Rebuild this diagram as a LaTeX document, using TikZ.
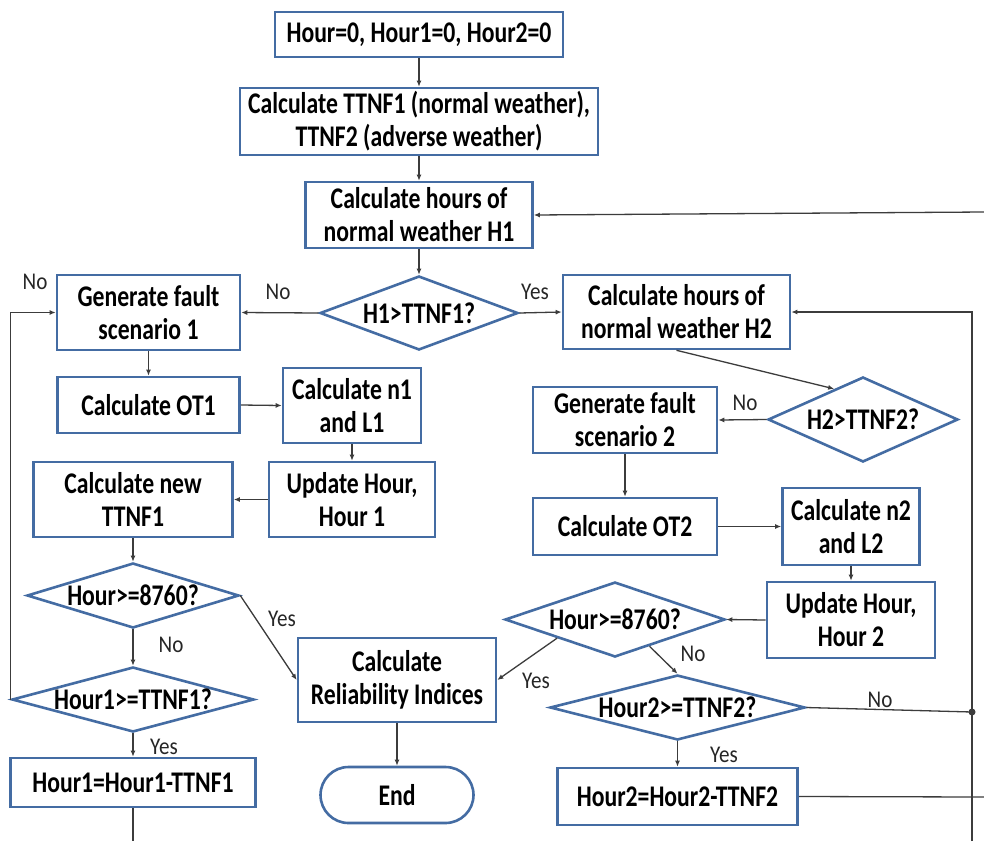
\documentclass[tikz,border=0pt]{standalone}
\usepackage{fontspec}
\setmainfont{Carlito}
\newfontfamily\boxfamily{Carlito}[FakeStretch=0.79]
\newfontfamily\tagfamily{Carlito}[FakeStretch=0.88]
\usetikzlibrary{shapes.geometric,arrows.meta,calc}

\definecolor{boxblue}{RGB}{68,108,163}
\definecolor{wire}{RGB}{60,60,60}
\newcommand\boxfont{\boxfamily\bfseries\fontsize{30}{33}\selectfont}
\newcommand\tagfont{\tagfamily\fontsize{24}{27}\selectfont}
\newcommand\dtext[1]{\makebox[0pt]{#1}}

\tikzset{
  stepbox/.style={draw=boxblue, line width=2.6pt, fill=white, rectangle,
    align=center, font=\boxfont, inner sep=0pt},
  decision/.style={draw=boxblue, line width=2.6pt, fill=white, diamond,
    inner sep=0pt, font=\boxfont},
  terminal/.style={stepbox, rounded corners=28pt},
  link/.style={draw=wire, line width=1.3pt, -{Latex[length=6pt,width=5pt]}},
  plain/.style={draw=wire, line width=1.3pt},
  tag/.style={font=\tagfont, text=black!85, inner sep=0pt}
}

\begin{document}
\begin{tikzpicture}[x=1pt,y=-1pt]
\useasboundingbox[fill=white] (0,0) rectangle (984,841);

% ---- main trunk ----
\node[stepbox, minimum width=288pt, minimum height=45pt] (init) at (419,34.5) {Hour=0, Hour1=0, Hour2=0};
\node[stepbox, minimum width=358pt, minimum height=67pt] (ttnf) at (419,121.5) {Calculate TTNF1 (normal weather),\\TTNF2 (adverse weather)};
\node[stepbox, minimum width=227pt, minimum height=66pt] (h1) at (419,215) {Calculate hours of\\normal weather H1};
\node[decision, minimum width=198pt, minimum height=74pt] (d1) at (419,313) {\dtext{H1>TTNF1?}};

% ---- normal weather branch ----
\node[stepbox, minimum width=183pt, minimum height=75pt] (gen1) at (148.5,312.5) {Generate fault\\scenario 1};
\node[stepbox, minimum width=182pt, minimum height=56pt] (ot1) at (148.5,405) {Calculate OT1};
\node[stepbox, minimum width=138pt, minimum height=75pt] (n1) at (352,405.5) {Calculate n1\\and L1};
\node[stepbox, minimum width=166pt, minimum height=75pt] (upd1) at (352,499.5) {Update Hour,\\Hour 1};
\node[stepbox, minimum width=199pt, minimum height=75pt] (new1) at (133,499.5) {Calculate new\\TTNF1};
\node[decision, minimum width=212pt, minimum height=65pt] (dA) at (133,595.5) {\dtext{Hour>=8760?}};
\node[decision, minimum width=242pt, minimum height=65pt] (dB) at (133,699.5) {\dtext{Hour1>=TTNF1?}};
\node[stepbox, minimum width=245pt, minimum height=49pt] (tot1) at (133,782.5) {Hour1=Hour1-TTNF1};

% ---- result ----
\node[stepbox, minimum width=198pt, minimum height=84pt] (rel) at (397,680) {Calculate\\Reliability Indices};
\node[terminal, minimum width=153pt, minimum height=56pt] (end) at (397,795) {End};

% ---- adverse weather branch ----
\node[stepbox, minimum width=227pt, minimum height=74pt] (h2) at (676.5,312) {Calculate hours of\\normal weather H2};
\node[decision, minimum width=190pt, minimum height=85pt] (d2) at (863,419.5) {\dtext{H2>TTNF2?}};
\node[stepbox, minimum width=184pt, minimum height=66pt] (gen2) at (625,420) {Generate fault\\scenario 2};
\node[stepbox, minimum width=184pt, minimum height=57pt] (ot2) at (625,526.5) {Calculate OT2};
\node[stepbox, minimum width=137pt, minimum height=77pt] (n2) at (851,526.5) {Calculate n2\\and L2};
\node[stepbox, minimum width=168pt, minimum height=76pt] (upd2) at (851,620) {Update Hour,\\Hour 2};
\node[decision, minimum width=220pt, minimum height=75pt] (dC) at (615,619.5) {\dtext{Hour>=8760?}};
\node[decision, minimum width=255pt, minimum height=65pt] (dD) at (677.5,707.5) {\dtext{Hour2>=TTNF2?}};
\node[stepbox, minimum width=240pt, minimum height=57pt] (tot2) at (677.5,796.5) {Hour2=Hour2-TTNF2};

% ---- free ends of the loops ----
\coordinate (rtop) at (984,212);
\coordinate (rbot) at (972,841);
\coordinate (jn) at (972,712);
\coordinate (rout) at (984,797);
\coordinate (lout) at (133,841);

% ---- connectors ----
\draw[link] (init.south) -- (ttnf.north);
\draw[link] (ttnf.south) -- (h1.north);
\draw[link] (h1.south) -- (d1.north);
\draw[link] (d1.west) -- (gen1.east);
\draw[link] (d1.east) -- (h2.west);
\draw[link] (gen1.south) -- (ot1.north);
\draw[link] (ot1.east) -- (n1.west);
\draw[link] (n1.south) -- (upd1.north);
\draw[link] (upd1.west) -- (new1.east);
\draw[link] (new1.south) -- (dA.north);
\draw[link] (dA.east) -- (rel.west);
\draw[link] (dA.south) -- (dB.north);
\draw[link] (dB.south) -- (tot1.north);
\draw[link] (dB.west) |- (gen1.west);
\draw[plain] (tot1.south) -- (lout);
\draw[link] (rel.south) -- (end.north);

\draw[link] (rtop) -- (h1.east);
\draw[link] (h2.south) -- ($(d2.west)!0.7!(d2.north)$);
\draw[link] (d2.west) -- (gen2.east);
\draw[link] (gen2.south) -- (ot2.north);
\draw[link] (ot2.east) -- (n2.west);
\draw[link] (n2.south) -- (upd2.north);
\draw[link] (upd2.west) -- (dC.east);
\draw[link] ($(dC.west)!0.48!(dC.south)$) -- (rel.east);
\draw[link] ($(dC.south)!0.31!(dC.east)$) -- (dD.north);
\draw[link] (dD.south) -- (tot2.north);
\draw[plain] (dD.east) -- (jn);
\draw[link] (rbot) |- (h2.east);
\fill[wire] (jn) circle (3.5pt);
\draw[plain] (tot2.east) -- (rout);

% ---- branch labels ----
\node[tag] (tNo0) at (35,282) {No};
\node[tag] (tNo1) at (278,292) {No};
\node[tag] (tYes1) at (535,292) {Yes};
\node[tag] (tNo2) at (745,403) {No};
\node[tag] (tYes2) at (282,619) {Yes};
\node[tag] (tNo3) at (171,645) {No};
\node[tag] (tYes3) at (164,747) {Yes};
\node[tag] (tYes4) at (536,681) {Yes};
\node[tag] (tNo4) at (693,654) {No};
\node[tag] (tNo5) at (880,700) {No};
\node[tag] (tYes5) at (724,755) {Yes};
\end{tikzpicture}
\end{document}
